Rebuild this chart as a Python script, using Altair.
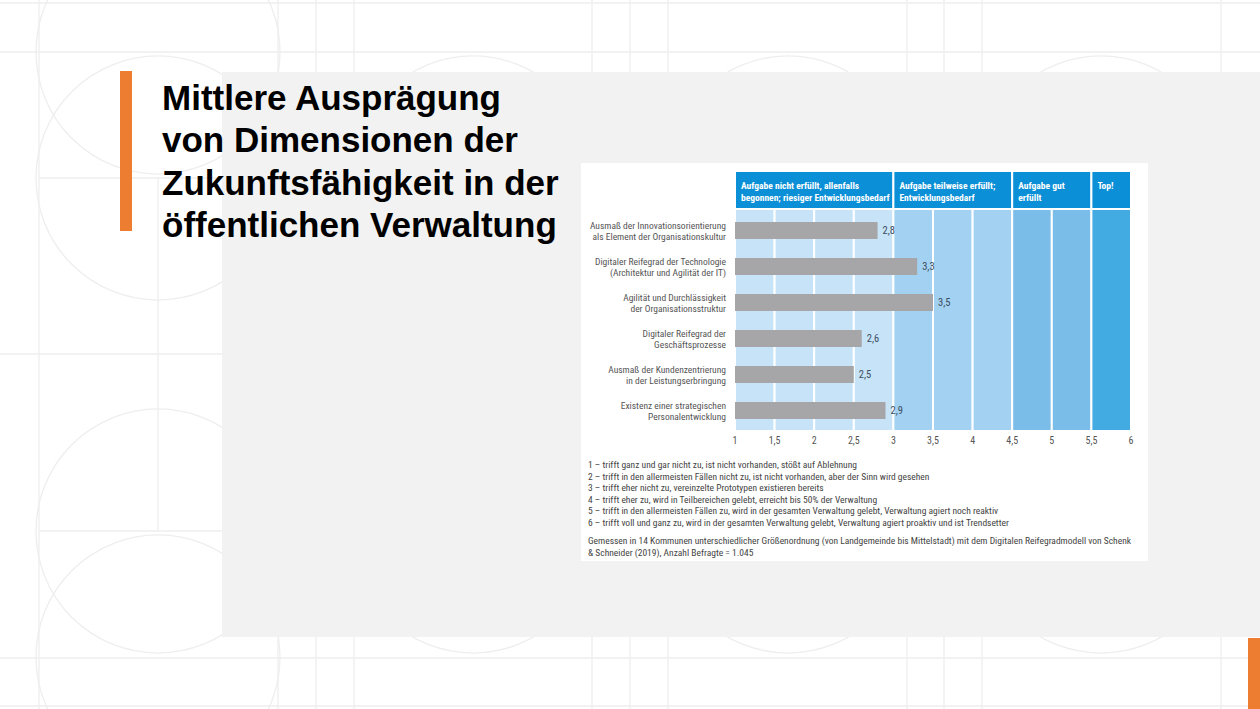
import altair as alt
import pandas as pd

W, H = 1260, 709

# ---------------- data ----------------
title_lines = ["Mittlere Ausprägung", "von Dimensionen der",
               "Zukunftsfähigkeit in der", "öffentlichen Verwaltung"]

categories = [
    "Ausmaß der Innovationsorientierung\nals Element der Organisationskultur",
    "Digitaler Reifegrad der Technologie\n(Architektur und Agilität der IT)",
    "Agilität und Durchlässigkeit\nder Organisationsstruktur",
    "Digitaler Reifegrad der\nGeschäftsprozesse",
    "Ausmaß der Kundenzentrierung\nin der Leistungserbringung",
    "Existenz einer strategischen\nPersonalentwicklung",
]
values = [2.8, 3.3, 3.5, 2.6, 2.5, 2.9]
value_labels = ["2,8", "3,3", "3,5", "2,6", "2,5", "2,9"]

tick_values = [1, 1.5, 2, 2.5, 3, 3.5, 4, 4.5, 5, 5.5, 6]
tick_labels = ["1", "1,5", "2", "2,5", "3", "3,5", "4", "4,5", "5", "5,5", "6"]

zone_starts = [1, 3, 4.5, 5.5]
zone_ends = [3, 4.5, 5.5, 6]
zone_headers = [
    "Aufgabe nicht erfüllt, allenfalls\nbegonnen; riesiger Entwicklungsbedarf",
    "Aufgabe teilweise erfüllt;\nEntwicklungsbedarf",
    "Aufgabe gut\nerfüllt",
    "Top!",
]
zone_names = ["z1", "z2", "z3", "z4"]
zone_colors = ["#c6e3f7", "#a2d1f1", "#7bbde9", "#41abe2"]

footnote_lines = [
    "1 – trifft ganz und gar nicht zu, ist nicht vorhanden, stößt auf Ablehnung",
    "2 – trifft in den allermeisten Fällen nicht zu, ist nicht vorhanden, aber der Sinn wird gesehen",
    "3 – trifft eher nicht zu, vereinzelte Prototypen existieren bereits",
    "4 – trifft eher zu, wird in Teilbereichen gelebt, erreicht bis 50% der Verwaltung",
    "5 – trifft in den allermeisten Fällen zu, wird in der gesamten Verwaltung gelebt, Verwaltung agiert noch reaktiv",
    "6 – trifft voll und ganz zu, wird in der gesamten Verwaltung gelebt, Verwaltung agiert proaktiv und ist Trendsetter",
]
source_lines = [
    "Gemessen in 14 Kommunen unterschiedlicher Größenordnung (von Landgemeinde bis Mittelstadt) mit dem Digitalen Reifegradmodell von Schenk",
    "& Schneider (2019), Anzahl Befragte = 1.045",
]

# decorative slide background (pixel layout)
hline_y = [3, 52, 178, 354, 531, 658, 706]
hline_x1 = [0, 0, 39, 0, 39, 0, 0]
vline_x = [39, 158, 278, 316, 354, 592, 630, 668, 907, 944, 982, 1221]
vline_y1 = [0, 178, 0, 0, 0, 0, 0, 0, 0, 0, 0, 0]
vline_y2 = [709, 531, 709, 709, 709, 709, 709, 709, 709, 709, 709, 709]
circle_cx = [158, 158, 158, 158, 473, 788, 1101, 473, 788, 1101]
circle_cy = [52, 178, 531, 657, 178, 178, 178, 531, 531, 531]

# ---------------- tables ----------------
bars_df = pd.DataFrame({"cat": categories, "v": values, "lab": value_labels})
ticks_df = pd.DataFrame({"t": tick_values, "tl": tick_labels})
zones_df = pd.DataFrame({"start": zone_starts, "end": zone_ends,
                         "head": zone_headers, "zone": zone_names})


def zone_of(x):
    for s, e, n in zip(zone_starts, zone_ends, zone_names):
        if s <= x < e:
            return n
    return zone_names[-1]


cells_df = pd.DataFrame({"start": tick_values[:-1], "end": tick_values[1:]})
cells_df["zone"] = [zone_of(s) for s in cells_df["start"]]

hl_df = pd.DataFrame({"y": hline_y, "x1": hline_x1, "x2": [W] * len(hline_y)})
vl_df = pd.DataFrame({"x": vline_x, "y1": vline_y1, "y2": vline_y2})
ci_df = pd.DataFrame({"cx": circle_cx, "cy": circle_cy})
one = pd.DataFrame({"k": [0]})

# ---------------- scales ----------------
xs = alt.Scale(domain=[1, 6], range=[735, 1131], nice=False, zero=False)
ys = alt.Scale(domain=categories, range=[212.5, 428.5], paddingInner=0, paddingOuter=0)
zc = alt.Scale(domain=zone_names, range=zone_colors)

NARROW = "Liberation Sans Narrow, Roboto Condensed, DejaVu Sans Condensed, Roboto, sans-serif"
DECO = "#eeeeee"

# ---------------- layers ----------------
hlines = alt.Chart(hl_df).mark_rule(color=DECO, strokeWidth=1.3).encode(
    x=alt.X("x1:Q", scale=None, axis=None), x2="x2:Q",
    y=alt.Y("y:Q", scale=None, axis=None))
vlines = alt.Chart(vl_df).mark_rule(color=DECO, strokeWidth=1.3).encode(
    x=alt.X("x:Q", scale=None, axis=None),
    y=alt.Y("y1:Q", scale=None, axis=None), y2="y2:Q")
circles = alt.Chart(ci_df).mark_point(shape="circle", filled=False, size=59536,
                                      stroke=DECO, strokeWidth=1.3, opacity=1).encode(
    x=alt.X("cx:Q", scale=None, axis=None), y=alt.Y("cy:Q", scale=None, axis=None))

gray_panel = alt.Chart(one).mark_rect(color="#f2f2f2").encode(
    x=alt.value(222), x2=alt.value(W), y=alt.value(72), y2=alt.value(637))
orange1 = alt.Chart(one).mark_rect(color="#ed7d31").encode(
    x=alt.value(120), x2=alt.value(132), y=alt.value(71), y2=alt.value(231))
orange2 = alt.Chart(one).mark_rect(color="#ed7d31").encode(
    x=alt.value(1248), x2=alt.value(W), y=alt.value(638), y2=alt.value(H))

title = alt.Chart(one).mark_text(
    font="Liberation Sans, Arial, sans-serif", fontSize=35, fontWeight="bold",
    align="left", baseline="alphabetic", lineBreak="\n", lineHeight=42.3,
    color="#000000").encode(
    x=alt.value(162), y=alt.value(110), text=alt.value("\n".join(title_lines)))

white_panel = alt.Chart(one).mark_rect(color="#ffffff").encode(
    x=alt.value(581), x2=alt.value(1148), y=alt.value(163), y2=alt.value(561))

headers = alt.Chart(zones_df).mark_rect(color="#0b8fd6", stroke="#ffffff", strokeWidth=2).encode(
    x=alt.X("start:Q", scale=xs, axis=None), x2="end:Q",
    y=alt.value(171), y2=alt.value(209))
header_text = alt.Chart(zones_df).mark_text(
    font=NARROW, fontSize=9.5, fontWeight="bold", color="#ffffff", align="left",
    baseline="alphabetic", lineBreak="\n", lineHeight=12, dx=6).encode(
    x=alt.X("start:Q", scale=xs, axis=None), y=alt.value(188.5), text="head:N")

cells = alt.Chart(cells_df).mark_rect(stroke="#ffffff", strokeWidth=2).encode(
    x=alt.X("start:Q", scale=xs, axis=None), x2="end:Q",
    y=alt.value(209), y2=alt.value(431),
    color=alt.Color("zone:N", scale=zc, legend=None))

bars = alt.Chart(bars_df).mark_bar(size=17, color="#a6a6a8").encode(
    x=alt.X("v:Q", scale=xs, axis=None), x2=alt.datum(1),
    y=alt.Y("cat:N", scale=ys, axis=None, sort=None))
bar_labels = alt.Chart(bars_df).mark_text(
    font=NARROW, fontSize=10.5, color="#3d4d5e", align="left", baseline="middle", dx=5).encode(
    x=alt.X("v:Q", scale=xs, axis=None),
    y=alt.Y("cat:N", scale=ys, axis=None, sort=None), text="lab:N")
cat_labels = alt.Chart(bars_df).mark_text(
    font=NARROW, fontSize=9.5, color="#555555", align="right", baseline="middle",
    lineBreak="\n", lineHeight=11.5, dy=-5).encode(
    x=alt.value(726), y=alt.Y("cat:N", scale=ys, axis=None, sort=None), text="cat:N")
tick_text = alt.Chart(ticks_df).mark_text(
    font=NARROW, fontSize=10, color="#555555", align="center", baseline="middle").encode(
    x=alt.X("t:Q", scale=xs, axis=None), y=alt.value(441), text="tl:N")

foot = alt.Chart(one).mark_text(
    font=NARROW, fontSize=9.5, color="#444444", align="left", baseline="middle",
    lineBreak="\n", lineHeight=11.5).encode(
    x=alt.value(588), y=alt.value(465), text=alt.value("\n".join(footnote_lines)))
source = alt.Chart(one).mark_text(
    font=NARROW, fontSize=9.5, color="#444444", align="left", baseline="middle",
    lineBreak="\n", lineHeight=12).encode(
    x=alt.value(588), y=alt.value(541), text=alt.value("\n".join(source_lines)))

chart = alt.layer(
    hlines, vlines, circles, gray_panel, orange1, orange2, title, white_panel,
    headers, header_text, cells, bars, bar_labels, cat_labels, tick_text, foot, source,
).resolve_scale(x="independent", y="independent", color="independent").properties(
    width=W, height=H, autosize=alt.AutoSizeParams(type="none"), padding=0,
    background="#ffffff",
).configure_view(stroke=None)

chart.save("out.html", embed_options={"renderer": "svg", "actions": False})
